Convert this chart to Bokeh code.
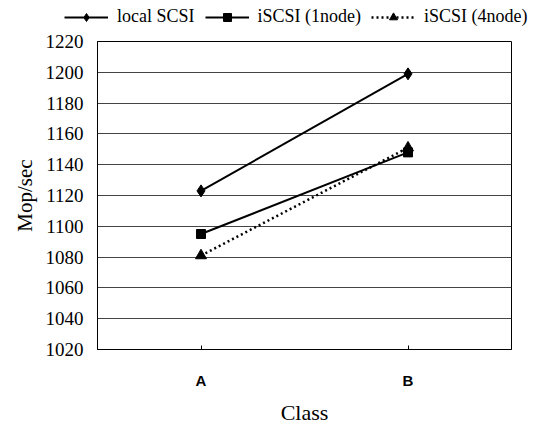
from bokeh.plotting import figure
from bokeh.models import Legend, LegendItem, FixedTicker
from bokeh.layouts import column, row
from bokeh.embed import file_html
from bokeh.resources import INLINE

classes = ["A", "B"]
local_scsi = [1123, 1199]
iscsi_1node = [1095, 1148]
iscsi_4node = [1081, 1151]
y_ticks = list(range(1020, 1221, 20))
series_names = ["local SCSI", "iSCSI (1node)", "iSCSI (4node)"]


def add_series(fig):
    r1l = fig.line(classes, local_scsi, line_color="black", line_width=2)
    r1m = fig.scatter(classes, local_scsi, marker="diamond", size=12, color="black")
    r2l = fig.line(classes, iscsi_1node, line_color="black", line_width=2)
    r2m = fig.scatter(classes, iscsi_1node, marker="square", size=9, color="black")
    r3l = fig.line(classes, iscsi_4node, line_color="black", line_width=2.5, line_dash="2 3")
    r3m = fig.scatter(classes, iscsi_4node, marker="triangle", size=11, color="black")
    return [[r1l, r1m], [r2l, r2m], [r3l, r3m]]


# legend strip
lg = figure(width=546, height=28, x_range=classes, y_range=(0, 1),
            output_backend="svg", toolbar_location=None,
            min_border_left=0, min_border_right=0, min_border_top=0, min_border_bottom=0,
            x_axis_location=None, y_axis_location=None)
lg.outline_line_color = None
lg.xgrid.grid_line_color = None
lg.ygrid.grid_line_color = None
lg_rends = add_series(lg)
legend = Legend(items=[LegendItem(label=n, renderers=r) for n, r in zip(series_names, lg_rends)],
                orientation="horizontal", location=(64, 1),
                label_text_font="Liberation Serif", label_text_font_size="18px",
                label_text_color="black",
                glyph_width=44, label_standoff=9, spacing=10, padding=0, margin=0,
                border_line_color=None, background_fill_alpha=0)
lg.add_layout(legend, "center")

# main chart
p = figure(width=546, height=402, x_range=classes, y_range=(1020, 1220),
           output_backend="svg", toolbar_location=None,
           min_border_left=97, min_border_right=35, min_border_top=13,
           min_border_bottom=81)
p.background_fill_color = "white"
p.outline_line_color = "black"
p.outline_line_width = 1
add_series(p)

p.yaxis.ticker = FixedTicker(ticks=y_ticks)
p.yaxis.major_label_text_font = "Liberation Serif"
p.yaxis.major_label_text_font_size = "19px"
p.yaxis.major_label_text_color = "black"
p.yaxis.axis_label = "Mop/sec"
p.yaxis.axis_label_text_font = "Liberation Serif"
p.yaxis.axis_label_text_font_size = "21px"
p.yaxis.axis_label_text_font_style = "normal"
p.yaxis.axis_label_text_color = "black"
p.yaxis.axis_label_standoff = 6
p.yaxis.major_tick_out = 0
p.yaxis.major_tick_in = 0
p.yaxis.minor_tick_out = 0
p.yaxis.major_label_standoff = 14
p.yaxis.axis_line_color = "black"

p.xaxis.major_label_text_font = "Liberation Sans"
p.xaxis.major_label_text_font_style = "bold"
p.xaxis.major_label_text_font_size = "15px"
p.xaxis.major_label_text_color = "black"
p.xaxis.major_label_standoff = 22
p.xaxis.axis_label = "Class"
p.xaxis.axis_label_text_font = "Liberation Serif"
p.xaxis.axis_label_text_font_size = "22px"
p.xaxis.axis_label_text_font_style = "normal"
p.xaxis.axis_label_text_color = "black"
p.xaxis.axis_label_standoff = 8
p.xaxis.major_tick_out = 0
p.xaxis.major_tick_in = 4
p.xaxis.axis_line_color = "black"

p.xgrid.grid_line_color = None
p.ygrid.grid_line_color = "#444444"
p.ygrid.grid_line_width = 1

layout = column(row(lg), p, spacing=0)
open("out.html", "w").write(file_html(layout, INLINE))
